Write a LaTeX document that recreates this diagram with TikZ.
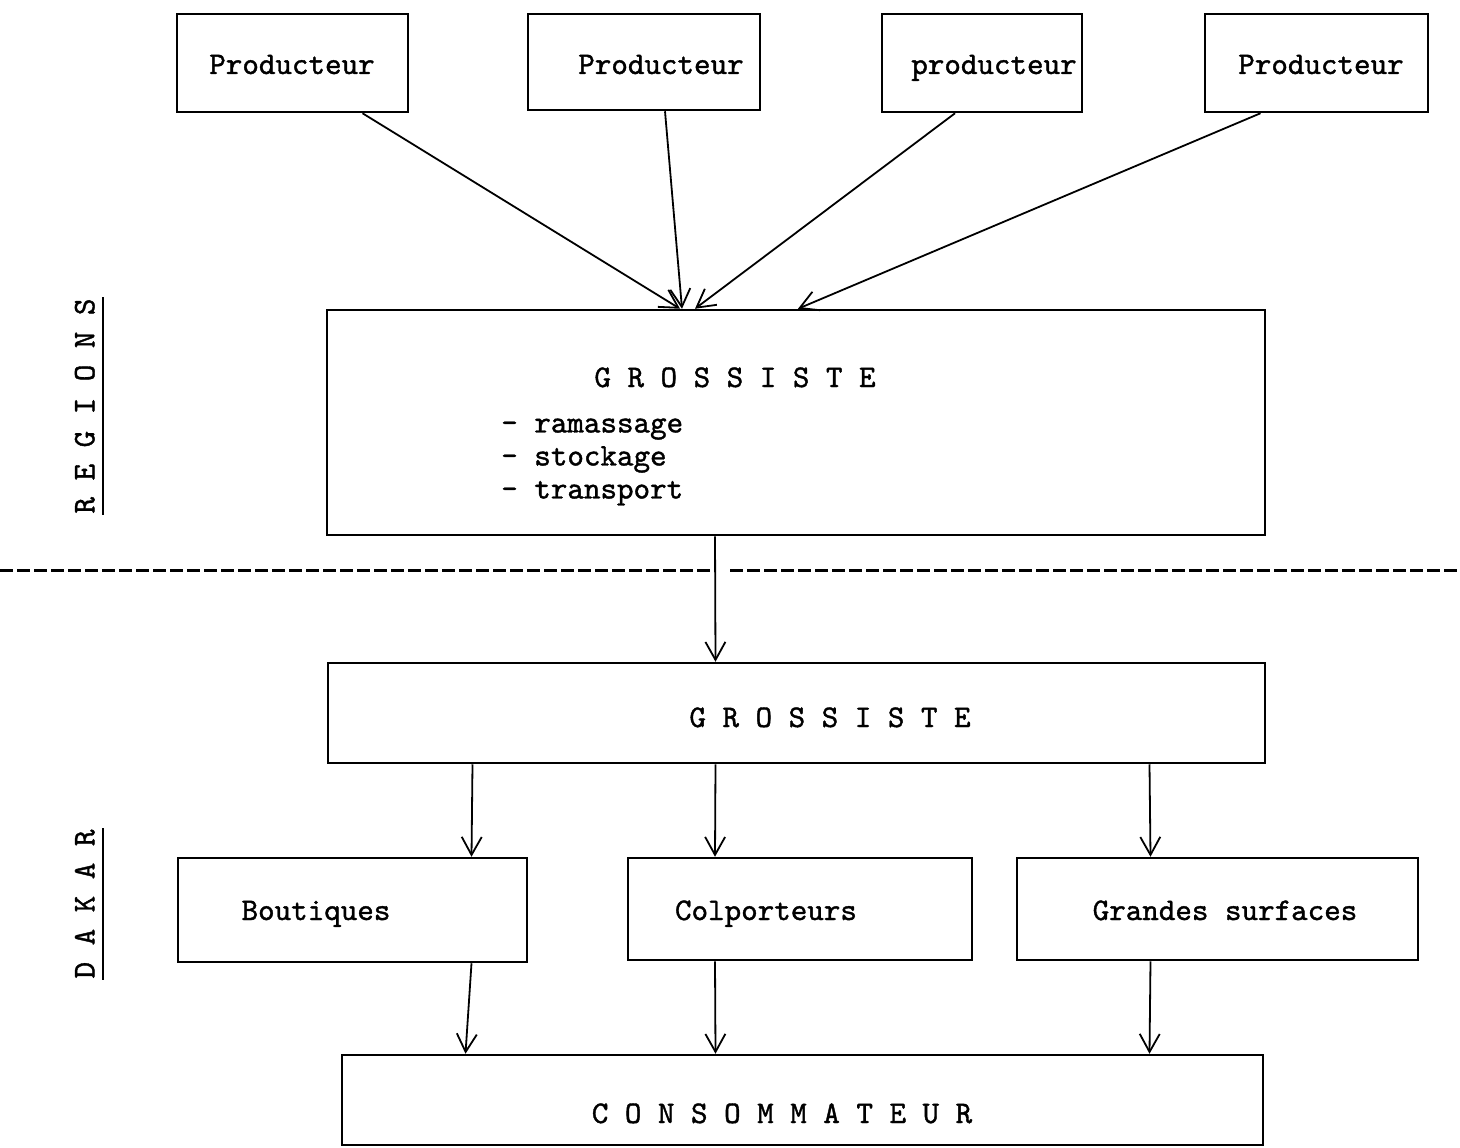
\documentclass[tikz,border=0pt]{standalone}
\usepackage{fontspec}
\newfontfamily\typew{lmmono10-regular.otf}[FakeBold=1.2]
\usepackage{tikz}
\usetikzlibrary{arrows.meta, fit}
\tikzset{>={Straight Barb[length=18pt, width=20pt]}}

\begin{document}
\begin{tikzpicture}[x=1pt, y=-1pt, line width=2.5pt,
    box/.style={draw, inner sep=0pt},
    txt/.style={font=\fontsize{31.5}{33}\selectfont\typew, inner sep=0pt, anchor=base},
    flow/.style={line width=1.8pt, ->}]
    \useasboundingbox(0, 0)rectangle(1460, 1148);
    \node[box, fit={(177, 14)(408, 112)}](p1){};
    \node[box, fit={(528, 14)(760, 110)}](p2){};
    \node[box, fit={(882, 14)(1082, 112)}](p3){};
    \node[box, fit={(1205, 14)(1428, 112)}](p4){};
    \node[box, fit={(327, 310)(1265, 535)}](gr){};
    \node[box, fit={(328, 663)(1265, 763)}](gd){};
    \node[box, fit={(178, 858)(527, 962)}](bo){};
    \node[box, fit={(628, 858)(972, 960)}](co){};
    \node[box, fit={(1017, 858)(1418, 960)}](gs){};
    \node[box, fit={(342, 1055)(1263, 1145)}](cs){};
    \node[txt](t1)at(292, 74){Producteur};
    \node[txt](t2)at(661, 74){Producteur};
    \node[txt](t3)at(994, 74){producteur};
    \node[txt](t4)at(1321, 74){Producteur};
    \node[txt](tgr)at(735, 387){G R O S S I S T E};
    \node[txt, anchor=west, align=left](tasks)at(500, 462){- ramassage\\- stockage\\- transport};
    \node[txt](tgd)at(830, 727){G R O S S I S T E};
    \node[txt](tbo)at(316, 920){Boutiques};
    \node[txt](tco)at(766, 920){Colporteurs};
    \node[txt](tgs)at(1225, 920){Grandes surfaces};
    \node[txt](tcs)at(782, 1123){C O N S O M M A T E U R};
    \node[txt, rotate=90, anchor=south](reg)at(96, 406){R E G I O N S};
    \draw[line width=2pt]([xshift=7pt]reg.south west)--([xshift=7pt]reg.south east);
    \node[txt, rotate=90, anchor=south](dak)at(96, 904){D A K A R};
    \draw[line width=2pt]([xshift=7pt]dak.south west)--([xshift=7pt]dak.south east);
    \draw[dash pattern=on 13pt off 4pt, line width=3pt](0, 570)--(712, 570) (730, 570)--(1460, 570);
    \draw[flow]([xshift=70pt]p1.south)--([xshift=-116pt]gr.north);
    \draw[flow]([xshift=21pt]p2.south)--([xshift=-114pt]gr.north);
    \draw[flow]([xshift=-27pt]p3.south)--([xshift=-101pt]gr.north);
    \draw[flow]([xshift=-56pt]p4.south)--([xshift=2pt]gr.north);
    \draw[flow]([xshift=-81pt]gr.south)--([xshift=-81pt]gd.north);
    \draw[flow]([xshift=-324pt]gd.south)--([xshift=119pt]bo.north);
    \draw[flow]([xshift=-81pt]gd.south)--([xshift=-85pt]co.north);
    \draw[flow]([xshift=353pt]gd.south)--([xshift=-67pt]gs.north);
    \draw[flow]([xshift=119pt]bo.south)--([xshift=-337pt]cs.north);
    \draw[flow]([xshift=-85pt]co.south)--([xshift=-87pt]cs.north);
    \draw[flow]([xshift=-67pt]gs.south)--([xshift=347pt]cs.north);
\end{tikzpicture}
\end{document}
